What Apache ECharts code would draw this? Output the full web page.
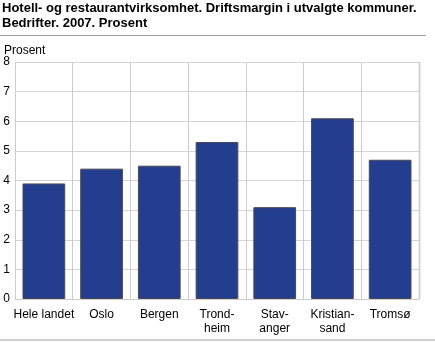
<!DOCTYPE html>
<html>
<head>
<meta charset="utf-8">
<script src="https://cdn.jsdelivr.net/npm/echarts@6/dist/echarts.min.js"></script>
<style>
  html, body { margin: 0; padding: 0; background: #fff; }
  #chart { width: 435px; height: 342px; }
</style>
</head>
<body>
<div id="chart"></div>
<script>
// Driftsmargin per kommune, 2007 (prosent)
const categories = ['Hele landet', 'Oslo', 'Bergen', 'Trond-\nheim', 'Stav-\nanger', 'Kristian-\nsand', 'Tromsø'];
const values = [3.9, 4.4, 4.5, 5.3, 3.1, 6.1, 4.7];
const yTicks = [0, 1, 2, 3, 4, 5, 6, 7, 8];
const titleLines = ['Hotell- og restaurantvirksomhet. Driftsmargin i utvalgte kommuner.', 'Bedrifter. 2007. Prosent'];
const unitLabel = 'Prosent';

const font = '"Liberation Sans", Arial, sans-serif';
const chart = echarts.init(document.getElementById('chart'), null, { renderer: 'canvas' });

chart.setOption({
  animation: false,
  backgroundColor: '#ffffff',
  graphic: [
    { type: 'text', x: 2, y: 8.5, style: { text: titleLines[0], font: 'bold 13px ' + font, fill: '#000', verticalAlign: 'middle' } },
    { type: 'text', x: 2, y: 23.5, style: { text: titleLines[1], font: 'bold 13px ' + font, fill: '#000', verticalAlign: 'middle' } },
    { type: 'line', shape: { x1: 0, y1: 35.5, x2: 426, y2: 35.5 }, style: { stroke: '#a0a0a0', lineWidth: 1 } },
    { type: 'line', shape: { x1: 0, y1: 340, x2: 435, y2: 340 }, style: { stroke: '#d0d0d0', lineWidth: 2 } },
    { type: 'text', x: 4, y: 51, style: { text: unitLabel, font: '12px ' + font, fill: '#000', verticalAlign: 'middle' } },
    // right border of the plot frame
    { type: 'line', shape: { x1: 419.5, y1: 62, x2: 419.5, y2: 299 }, style: { stroke: '#dcdcdc', lineWidth: 2 } }
  ],
  grid: { left: 15, right: 16, top: 62, bottom: 43, containLabel: false },
  xAxis: {
    type: 'category',
    data: categories,
    axisLine: { show: true, lineStyle: { color: '#cccccc', width: 1 } },
    axisTick: { show: false },
    splitLine: { show: true, lineStyle: { color: '#cccccc', width: 1 } },
    axisLabel: { fontFamily: font, fontSize: 12, color: '#000', margin: 9, lineHeight: 14, interval: 0 }
  },
  yAxis: {
    type: 'value',
    min: yTicks[0], max: yTicks[yTicks.length - 1], interval: 1,
    axisLine: { show: false },
    axisTick: { show: false },
    splitLine: { show: true, lineStyle: { color: '#d4d4d4', width: 1 } },
    axisLabel: { fontFamily: font, fontSize: 12, color: '#000', margin: 5 }
  },
  series: [{
    type: 'bar',
    data: values,
    barCategoryGap: '26%',
    itemStyle: { color: '#233e8f', borderColor: '#4a4a55', borderWidth: 1 }
  }]
});
</script>
</body>
</html>
